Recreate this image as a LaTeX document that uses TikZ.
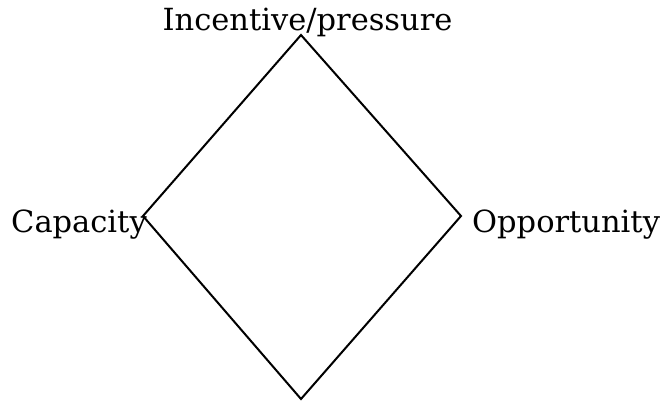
\documentclass[tikz,border=0pt]{standalone}
\usepackage{fontspec}
\setmainfont{DejaVu Serif}
\begin{document}
\begin{tikzpicture}[x=1pt,y=-1pt,
  lbl/.style={inner sep=0pt,font=\fontsize{30.5}{36}\selectfont},
  edge/.style={draw=black,line width=2pt,line join=miter}]
\useasboundingbox (0,0) rectangle (667,400);
\coordinate (top) at (301,35);
\coordinate (left) at (143,216);
\coordinate (right) at (461,216);
\coordinate (bottom) at (301,399);
\draw[edge] (top) -- (right) -- (bottom) -- (left) -- cycle;
\node[lbl,anchor=base] (inc) at (307.5,30) {Incentive/pressure};
\node[lbl,anchor=base west] (cap) at (11,232) {Capacity};
\node[lbl,anchor=base west] (opp) at (472,232) {Opportunity};
\end{tikzpicture}
\end{document}
